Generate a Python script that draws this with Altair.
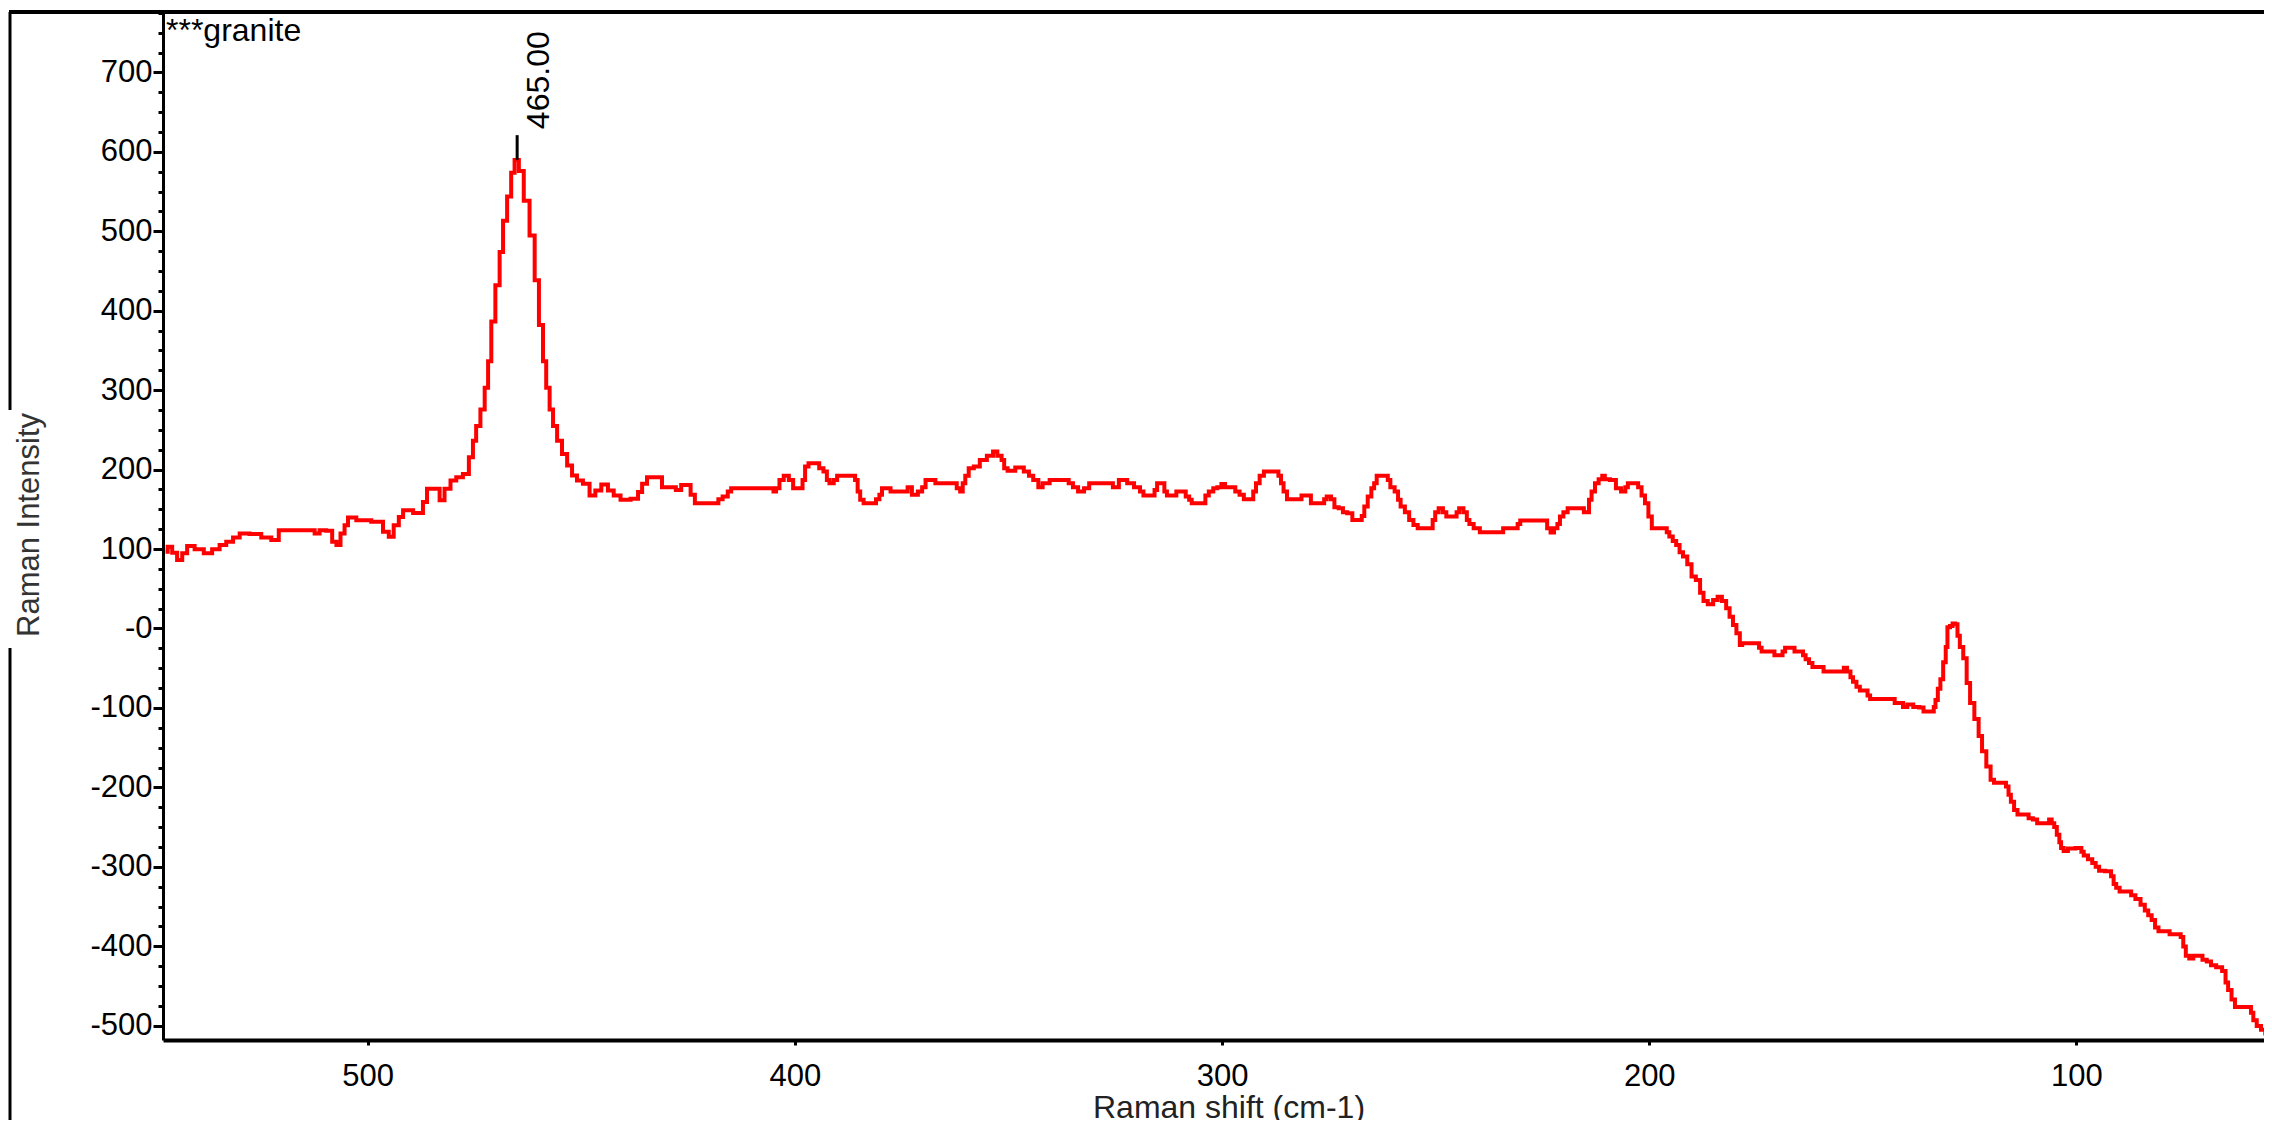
import altair as alt
import pandas as pd

# ---- data (Raman shift cm-1, intensity) ----
shift = [
547.3, 546.3, 545.2, 544.0, 542.8, 541.7, 539.3, 537.4, 535.4, 533.9, 532.3, 530.7, 529.2, 526.1, 523.7, 521.4, 520.2,
512.8, 512.0, 510.5, 508.9, 507.7, 506.9, 505.8, 505.0, 504.2, 501.1, 497.2, 495.6, 494.5, 493.3, 492.1, 491.3, 487.4,
486.7, 485.5, 483.5, 482.8, 481.2, 480.0, 478.5, 476.9, 475.7, 475.0, 474.2, 473.0, 472.2, 471.4, 470.7, 469.5, 468.7,
467.9, 466.8, 466.0, 465.2, 464.0, 462.9, 461.3, 460.5, 459.3, 458.6, 457.8, 457.0, 456.2, 455.1, 453.9, 452.7, 451.6,
450.4, 448.8, 447.3, 446.1, 444.5, 443.0, 441.8, 439.8, 437.1, 436.3, 435.2, 434.0, 431.7, 430.5, 428.7,
427.0, 426.2, 425.0, 423.8, 423.0, 418.1, 417.7, 416.1, 415.3, 414.5, 405.2, 404.8, 404.0, 403.2, 402.0, 400.8, 400.0,
398.4, 398.0, 397.2, 396.4, 394.7, 393.9, 392.7, 392.3, 391.5, 390.3, 389.9, 386.3, 385.5, 385.1, 384.3, 383.5, 381.4,
380.6, 379.8, 379.4, 377.8, 377.4, 373.8, 373.4, 371.8, 370.6, 369.8, 369.0, 367.3, 366.9, 362.5, 361.7, 360.9, 360.5,
359.7, 358.9, 357.3, 356.1, 354.0, 353.2, 352.0, 351.2, 350.8, 349.6, 347.2, 345.6, 344.8, 343.6, 342.4, 341.6, 339.1,
336.3, 335.5, 334.3, 333.1, 331.5, 330.7, 325.8, 325.3, 323.0, 321.4, 319.8, 318.6, 318.2, 316.2, 315.4, 315.0, 313.7,
313.3, 312.5, 310.9, 310.5, 308.9, 308.1, 307.3, 306.9, 304.1, 303.7, 302.5, 301.6, 300.6,
299.7, 298.9, 297.3, 296.5, 295.3, 294.5, 292.9, 292.5, 291.6, 290.8, 289.6, 287.2, 286.4, 286.0, 285.2, 284.4, 281.6,
281.2, 279.6, 278.8, 276.3, 275.9, 275.1, 273.9, 273.5, 271.9, 271.5, 269.9, 269.1, 267.5, 267.1, 266.3, 265.5, 264.6,
264.2, 263.4, 261.4, 261.0, 260.2, 259.0, 258.6, 257.8, 256.6, 255.8, 254.6, 253.8, 250.9, 250.5, 249.7, 248.9, 247.7,
247.3, 245.3, 244.9, 244.1, 242.9, 242.5, 241.7, 240.5, 238.8, 234.4, 234.0, 231.2, 230.4, 230.0, 224.3, 223.5, 222.7,
221.9, 221.1, 220.7, 219.5, 218.7, 215.5, 215.1, 214.3, 213.9, 213.1, 212.3, 211.4, 210.6, 210.2, 208.2, 207.4, 205.8,
205.4, 204.6, 203.0, 202.2, 201.4, 200.6, 199.8, 199.0, 196.1, 195.7, 194.9, 194.1, 193.3, 192.5, 191.7, 190.5, 189.7,
188.5, 187.7, 186.9, 185.7, 184.4, 183.6, 182.4, 181.6, 180.8, 180.0, 179.2, 178.4,
178.1, 174.5, 174.1, 173.3, 170.9, 170.5, 169.0, 168.6, 167.8, 166.2, 165.8, 164.2, 163.8, 163.0, 162.2, 161.4, 159.4,
159.0, 154.6, 154.3, 153.1, 152.7, 151.9, 151.1, 150.3, 149.1, 148.7, 147.9, 142.8, 142.3, 140.8, 140.4, 138.8, 137.6,
136.0, 135.6, 133.6, 133.2, 132.8, 132.1, 131.6, 130.8, 130.4, 130.0, 129.2, 128.8, 128.0, 127.7, 126.9, 126.1, 125.3,
124.5, 123.3, 122.5, 121.7, 120.5, 119.7, 118.9, 116.9, 116.1, 115.7, 115.0, 114.2, 113.4, 111.4, 111.0, 109.4, 109.0,
106.6, 106.2, 105.4, 105.0, 104.2, 103.8, 103.4, 102.6, 101.4, 99.0, 98.7, 97.9, 96.7, 95.9, 95.1, 94.3, 92.3, 91.5,
91.1, 90.3, 89.5, 87.6, 86.8, 85.6, 84.4, 83.6, 82.8, 82.0, 81.2, 80.4, 78.4, 78.0, 76.0, 75.2, 74.8, 74.0, 73.2, 72.1,
70.9, 70.1, 68.9, 68.1, 66.5, 65.3, 64.9, 64.1, 63.3, 62.5, 59.3, 59.0, 58.2, 57.4, 56.2, 55.4, 54.6, 53.8,
]
intensity = [
96.7, 102.9, 95.4, 86.3, 94.6, 103.8, 99.6, 94.6, 99.6, 105.0, 109.2, 114.6, 119.6, 119.0, 114.6, 111.3, 123.8,
123.8, 119.6, 123.8, 122.9, 109.2, 105.0, 119.6, 130.0, 139.6, 136.3, 134.2, 121.7, 115.4, 130.0, 140.4, 148.8, 145.4,
159.2, 175.8, 175.8, 161.3, 175.8, 186.3, 190.4, 194.6, 215.4, 236.3, 255.0, 275.8, 302.9, 336.3, 386.3, 432.1, 473.8,
513.3, 543.8, 573.8, 589.6, 575.8, 538.3, 494.6, 438.3, 382.1, 336.3, 302.9, 275.8, 255.0, 236.3, 219.6, 205.0, 192.5,
186.3, 182.1, 167.5, 173.8, 181.3, 173.8, 167.5, 162.1, 163.3, 171.7, 182.1, 190.4, 190.4, 177.9, 177.9,
174.4, 180.7, 180.7, 168.2, 157.7, 157.7, 162.7, 166.0, 172.4, 176.5, 176.5, 172.4, 176.5, 187.0, 192.1, 187.0, 176.5,
176.5, 187.0, 203.8, 208.0, 208.0, 201.7, 197.5, 187.0, 182.8, 187.0, 192.1, 192.1, 187.0, 172.4, 161.9, 157.7, 157.7,
162.7, 168.2, 176.5, 176.5, 172.4, 172.4, 177.8, 168.2, 172.4, 177.8, 187.0, 187.0, 182.8, 182.8, 176.5, 172.4, 182.8,
192.1, 201.7, 203.8, 212.2, 217.3, 222.7, 217.3, 212.2, 201.7, 198.4, 202.6, 197.5, 192.1, 187.0, 177.8, 182.8, 187.0,
187.0, 182.8, 177.8, 172.4, 176.5, 182.8, 182.8, 177.8, 187.0, 182.8, 177.8, 172.4, 167.3, 167.3, 174.4, 182.8, 182.8,
172.4, 167.3, 167.3, 172.4, 172.4, 166.0, 161.9, 157.7, 157.7, 167.3, 172.4, 176.5, 177.8,
182.0, 177.8, 177.8, 172.4, 168.2, 162.7, 162.7, 172.4, 182.8, 192.1, 197.5, 197.5, 192.1, 182.8, 172.4, 162.7, 162.7,
167.3, 167.3, 157.7, 157.7, 162.7, 166.0, 162.7, 152.6, 151.4, 146.3, 145.1, 136.7, 136.7, 141.7, 153.5, 166.0, 176.5,
182.8, 192.1, 192.1, 187.0, 177.8, 172.4, 161.9, 153.5, 146.3, 136.7, 130.4, 126.2, 126.2, 136.7, 146.3, 151.4, 146.3,
140.9, 140.9, 146.3, 151.4, 146.3, 136.7, 131.6, 126.2, 121.1, 121.1, 126.2, 126.2, 131.6, 135.8, 135.8, 126.2, 120.7,
126.2, 131.6, 140.9, 146.3, 151.4, 151.4, 146.3, 146.3, 161.9, 172.4, 182.8, 187.9, 192.1, 187.9, 187.0, 176.5, 172.4,
177.8, 182.8, 182.8, 177.8, 167.3, 157.7, 140.9, 126.2, 126.2, 121.1, 115.7, 110.2, 105.2, 95.9, 90.5, 80.8, 65.3,
61.1, 45.1, 34.6, 30.5, 35.9, 40.1, 34.6, 25.4, 14.9, 4.4, -6.1, -20.8,
-18.5, -18.5, -24.2, -29.0, -29.0, -33.8, -33.8, -29.0, -24.2, -24.2, -29.0, -29.0, -33.8, -38.6, -43.3, -48.6, -48.6,
-54.3, -54.3, -49.5, -54.3, -61.5, -67.2, -73.4, -78.2, -78.2, -84.4, -88.7, -88.7, -93.9, -93.9, -98.7, -95.8, -98.7,
-99.6, -104.4, -104.4, -98.7, -90.1, -75.8, -63.8, -42.4, -23.3, 1.5, 3.0, 6.3, 5.3, -9.0, -23.3, -37.6, -68.6,
-93.9, -113.9, -135.4, -154.5, -173.6, -190.3, -194.1, -194.1, -198.9, -209.4, -218.0, -228.4, -234.2, -234.2, -238.9, -240.4, -245.1,
-245.1, -240.4, -245.1, -249.9, -259.5, -269.0, -276.2, -280.0, -277.1, -276.2, -280.9, -285.7, -290.5, -295.2, -300.0, -304.8, -305.7, -311.9,
-321.5, -326.2, -331.0, -331.0, -335.8, -340.6, -347.7, -354.9, -361.1, -366.8, -376.3, -381.1, -381.1, -384.9, -384.9, -388.3, -400.2, -412.1, -415.5, -412.1,
-412.1, -416.9, -419.3, -424.0, -426.4, -431.2, -445.5, -455.1, -467.0, -476.5, -476.5, -483.7, -493.2, -500.4, -505.2, -509.9, -504.3, -520.0,
]

peak_shift = [465.0]
peak_low = [590.0]
peak_high = [621.0]
peak_label = ["465.00"]

sample_name = ["***granite"]
x_title = ["Raman shift (cm-1)"]
y_title = ["Raman Intensity"]

x_ticks = [100, 200, 300, 400, 500]
y_major = list(range(-500, 701, 100))
y_minor = list(range(-500, 776, 25))

X_DOMAIN = [56.1, 547.9]
Y_DOMAIN = [-518, 776]
W, H = 2101, 1028
FONT = "Liberation Sans"

df = pd.DataFrame({"v": shift, "I": intensity})
peak_df = pd.DataFrame({"v": peak_shift, "I": peak_low, "I2": peak_high, "lab": peak_label})

xscale = alt.Scale(domain=X_DOMAIN, reverse=True, nice=False, zero=False)
yscale = alt.Scale(domain=Y_DOMAIN, nice=False, zero=False)

xaxis = alt.Axis(
    values=x_ticks, title=None, grid=False, tickSize=5, tickWidth=3, tickColor="black",
    domainWidth=4, domainColor="black", labelFont=FONT, labelFontSize=31, labelColor="black",
    labelPadding=16, labelFlush=False, orient="bottom")

label_expr = "datum.value == 0 ? '-0' : (datum.value < 0 ? '-' + abs(datum.value) : '' + datum.value)"

line = alt.Chart(df).mark_line(color="#ff0000", strokeWidth=4, interpolate="step", clip=True).encode(
    x=alt.X("v:Q", scale=xscale, axis=xaxis),
    y=alt.Y("I:Q", scale=yscale, axis=alt.Axis(
        values=y_major, title=None, grid=False, tickSize=10, tickWidth=3, tickColor="black",
        domainWidth=3, domainColor="black", labelFont=FONT, labelFontSize=31, labelColor="black",
        labelPadding=1, labelExpr=label_expr, labelFlush=False, orient="left")),
)

marker = alt.Chart(peak_df).mark_rule(color="black", strokeWidth=3).encode(
    x=alt.X("v:Q", scale=xscale, axis=xaxis),
    y=alt.Y("I:Q", scale=yscale, axis=alt.Axis(
        values=y_minor, title=None, grid=False, labels=False, domain=False, tickSize=5,
        tickWidth=3, tickColor="black", orient="left")),
    y2="I2:Q",
)

peak_text = alt.Chart(peak_df).mark_text(
    font=FONT, fontSize=32, color="black", angle=270, align="left", baseline="middle", dx=6, dy=22
).encode(
    x=alt.X("v:Q", scale=xscale, axis=xaxis),
    y=alt.Y("I2:Q", scale=yscale, axis=None),
    text="lab:N",
)

one = pd.DataFrame({"k": [0]})

top_border = alt.Chart(one).mark_rule(color="black", strokeWidth=4).encode(
    x=alt.value(-154), x2=alt.value(W + 10), y=alt.value(0))
left_border_a = alt.Chart(one).mark_rule(color="black", strokeWidth=3).encode(
    x=alt.value(-153), y=alt.value(0), y2=alt.value(398))
left_border_b = alt.Chart(one).mark_rule(color="black", strokeWidth=3).encode(
    x=alt.value(-153), y=alt.value(636), y2=alt.value(1120))

name_text = alt.Chart(pd.DataFrame({"t": sample_name})).mark_text(
    font=FONT, fontSize=32, color="black", align="left", baseline="alphabetic"
).encode(x=alt.value(3), y=alt.value(29), text="t:N")

xt = alt.Chart(pd.DataFrame({"t": x_title})).mark_text(
    font=FONT, fontSize=32, color="#222222", align="center", baseline="alphabetic"
).encode(x=alt.value(1066), y=alt.value(1106), text="t:N")

yt = alt.Chart(pd.DataFrame({"t": y_title})).mark_text(
    font=FONT, fontSize=31, color="#333333", align="center", baseline="middle", angle=270
).encode(x=alt.value(-133), y=alt.value(513), text="t:N")

chart = alt.layer(
    line, marker, peak_text, top_border, left_border_a, left_border_b, name_text, xt, yt
).resolve_scale(y="shared", x="shared").resolve_axis(y="independent", x="shared").properties(
    width=W, height=H,
    autosize=alt.AutoSizeParams(type="none"),
    padding={"left": 155, "top": 4, "right": 0, "bottom": 80},
    background="white",
).configure_view(stroke=None)

chart.save("out.html", embed_options={"renderer": "svg", "actions": False})
